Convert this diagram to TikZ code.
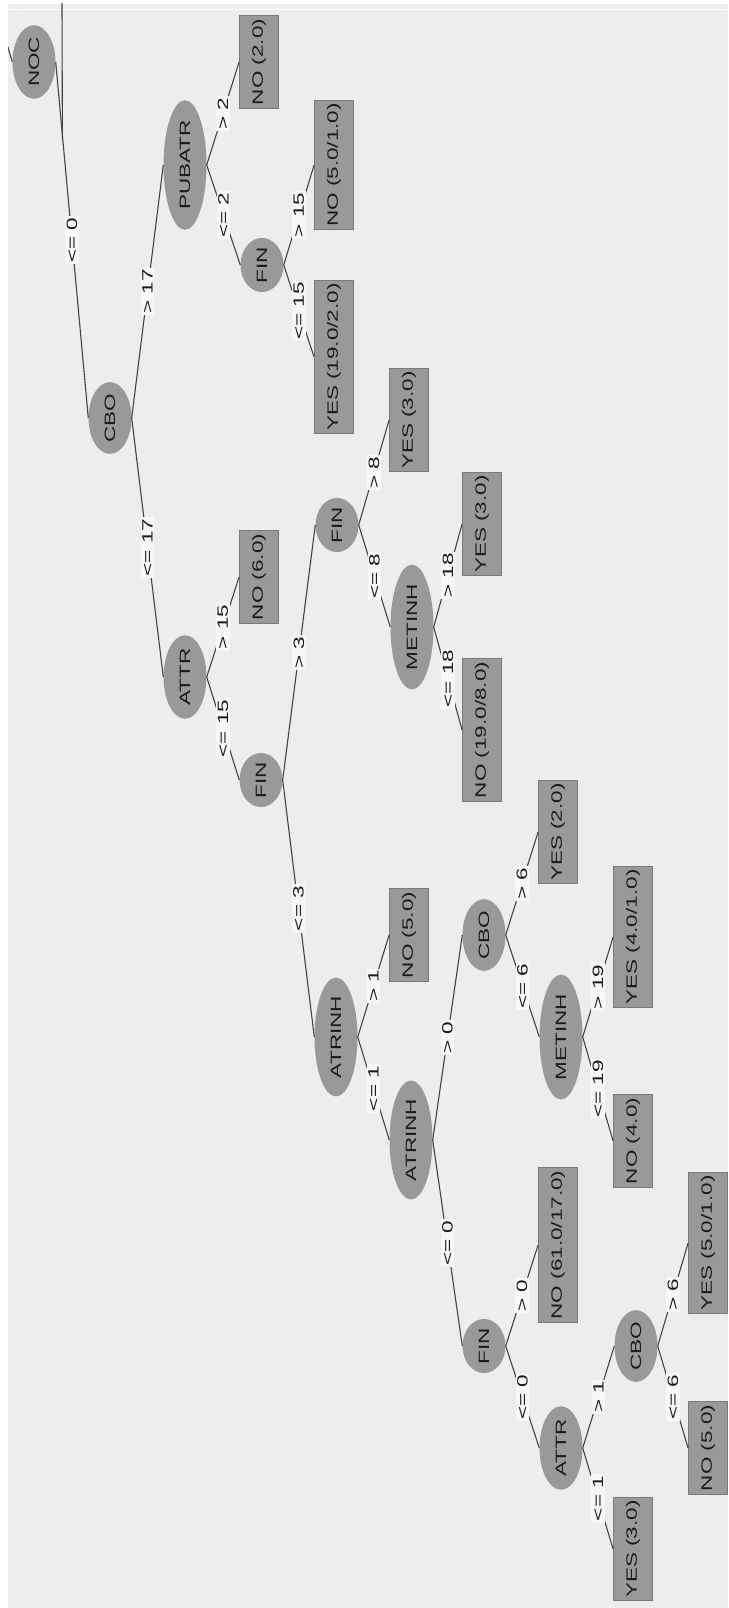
\documentclass[tikz,border=0pt]{standalone}
\usepackage{fontspec}
\setmainfont{Liberation Sans}
\usepackage{graphicx}
\usetikzlibrary{shapes.geometric}
\definecolor{panel}{HTML}{EDEDED}
\definecolor{nodegray}{HTML}{999999}
\definecolor{boxedge}{HTML}{7A7A7A}
\definecolor{edgecol}{HTML}{444444}
\definecolor{lblbg}{HTML}{F7F7F7}
\definecolor{txt}{HTML}{1A1A1A}
\newcommand\vtxt[1]{\rotatebox{90}{\scalebox{1.5}[1]{#1}}}
\tikzset{
  inner/.style={ellipse, fill=nodegray, inner sep=1pt, minimum width=43pt,
    text=txt, font=\fontsize{15}{17}\selectfont},
  leaf/.style={rectangle, fill=nodegray, draw=boxedge, line width=0.8pt,
    inner xsep=0pt, inner ysep=3pt, minimum width=39pt,
    text=txt, font=\fontsize{15}{17}\selectfont},
  edge/.style={draw=edgecol, line width=1.1pt},
  lbl/.style={midway, fill=lblbg, inner sep=1.5pt, text=txt,
    font=\fontsize{15}{17}\selectfont}
}
\begin{document}
\begin{tikzpicture}[x=1pt,y=-1pt]
\useasboundingbox (0,0) rectangle (728,1608);
\fill[white] (0,0) rectangle (728,1608);
\fill[panel] (8,4) rectangle (728,1608);
\draw[white!90!panel, line width=1pt] (8,10) -- (728,10);
\draw[black!8, line width=1pt] (12,10) -- (12,1608);
\draw[black!6, line width=1pt] (19,10) -- (19,1608);
\draw[black!8, line width=1pt] (726,14) -- (726,1608);
\begin{scope}
\clip (8,4) rectangle (728,1608);
% inner nodes
\node[inner] (NOC) at (34,62) {\vtxt{NOC}};
\node[inner] (CBOa) at (110,418) {\vtxt{CBO}};
\node[inner] (PUB) at (185,165) {\vtxt{PUBATR}};
\node[inner] (FINa) at (262,265) {\vtxt{FIN}};
\node[inner] (ATTRa) at (185,677) {\vtxt{ATTR}};
\node[inner] (FINb) at (261,780) {\vtxt{FIN}};
\node[inner] (FINc) at (337,525) {\vtxt{FIN}};
\node[inner] (METa) at (412,627) {\vtxt{METINH}};
\node[inner] (ATRa) at (336,1037) {\vtxt{ATRINH}};
\node[inner] (ATRb) at (411,1140) {\vtxt{ATRINH}};
\node[inner] (CBOb) at (484,935) {\vtxt{CBO}};
\node[inner] (METb) at (561,1037) {\vtxt{METINH}};
\node[inner] (FINd) at (484,1346) {\vtxt{FIN}};
\node[inner] (ATTRb) at (561,1448) {\vtxt{ATTR}};
\node[inner] (CBOc) at (636,1346) {\vtxt{CBO}};
% leaves
\node[leaf] (L1) at (259,62) {\vtxt{NO (2.0)}};
\node[leaf] (L2) at (334,165) {\vtxt{NO (5.0/1.0)}};
\node[leaf] (L3) at (334,357) {\vtxt{YES (19.0/2.0)}};
\node[leaf] (L4) at (259,577) {\vtxt{NO (6.0)}};
\node[leaf] (L5) at (409,420) {\vtxt{YES (3.0)}};
\node[leaf] (L6) at (482,524) {\vtxt{YES (3.0)}};
\node[leaf] (L7) at (482,730) {\vtxt{NO (19.0/8.0)}};
\node[leaf] (L8) at (558,832) {\vtxt{YES (2.0)}};
\node[leaf] (L9) at (409,935) {\vtxt{NO (5.0)}};
\node[leaf] (L10) at (633,937) {\vtxt{YES (4.0/1.0)}};
\node[leaf] (L11) at (633,1141) {\vtxt{NO (4.0)}};
\node[leaf] (L12) at (558,1245) {\vtxt{NO (61.0/17.0)}};
\node[leaf] (L13) at (708,1243) {\vtxt{YES (5.0/1.0)}};
\node[leaf] (L14) at (708,1448) {\vtxt{NO (5.0)}};
\node[leaf] (L15) at (633,1549) {\vtxt{YES (3.0)}};
% free ends
\coordinate (topA) at (62,2);
\coordinate (topB) at (62.4,140);
\coordinate (stub) at (4,34);
\draw[edge] (topA) -- (topB);
\draw[edge] (stub) -- (NOC.west);
% edges
\draw[edge] (NOC.east) -- node[lbl]{\vtxt{<= 0}} (CBOa.west);
\draw[edge] (CBOa.east) -- node[lbl]{\vtxt{> 17}} (PUB.west);
\draw[edge] (CBOa.east) -- node[lbl]{\vtxt{<= 17}} (ATTRa.west);
\draw[edge] (PUB.east) -- node[lbl]{\vtxt{> 2}} (L1.west);
\draw[edge] (PUB.east) -- node[lbl]{\vtxt{<= 2}} (FINa.west);
\draw[edge] (FINa.east) -- node[lbl]{\vtxt{> 15}} (L2.west);
\draw[edge] (FINa.east) -- node[lbl]{\vtxt{<= 15}} (L3.west);
\draw[edge] (ATTRa.east) -- node[lbl]{\vtxt{> 15}} (L4.west);
\draw[edge] (ATTRa.east) -- node[lbl]{\vtxt{<= 15}} (FINb.west);
\draw[edge] (FINb.east) -- node[lbl]{\vtxt{> 3}} (FINc.west);
\draw[edge] (FINb.east) -- node[lbl]{\vtxt{<= 3}} (ATRa.west);
\draw[edge] (FINc.east) -- node[lbl]{\vtxt{> 8}} (L5.west);
\draw[edge] (FINc.east) -- node[lbl]{\vtxt{<= 8}} (METa.west);
\draw[edge] (METa.east) -- node[lbl]{\vtxt{> 18}} (L6.west);
\draw[edge] (METa.east) -- node[lbl]{\vtxt{<= 18}} (L7.west);
\draw[edge] (ATRa.east) -- node[lbl]{\vtxt{> 1}} (L9.west);
\draw[edge] (ATRa.east) -- node[lbl]{\vtxt{<= 1}} (ATRb.west);
\draw[edge] (ATRb.east) -- node[lbl]{\vtxt{> 0}} (CBOb.west);
\draw[edge] (ATRb.east) -- node[lbl]{\vtxt{<= 0}} (FINd.west);
\draw[edge] (CBOb.east) -- node[lbl]{\vtxt{> 6}} (L8.west);
\draw[edge] (CBOb.east) -- node[lbl]{\vtxt{<= 6}} (METb.west);
\draw[edge] (METb.east) -- node[lbl]{\vtxt{> 19}} (L10.west);
\draw[edge] (METb.east) -- node[lbl]{\vtxt{<= 19}} (L11.west);
\draw[edge] (FINd.east) -- node[lbl]{\vtxt{> 0}} (L12.west);
\draw[edge] (FINd.east) -- node[lbl]{\vtxt{<= 0}} (ATTRb.west);
\draw[edge] (ATTRb.east) -- node[lbl]{\vtxt{> 1}} (CBOc.west);
\draw[edge] (ATTRb.east) -- node[lbl]{\vtxt{<= 1}} (L15.west);
\draw[edge] (CBOc.east) -- node[lbl]{\vtxt{> 6}} (L13.west);
\draw[edge] (CBOc.east) -- node[lbl]{\vtxt{<= 6}} (L14.west);
\end{scope}
\end{tikzpicture}
\end{document}
